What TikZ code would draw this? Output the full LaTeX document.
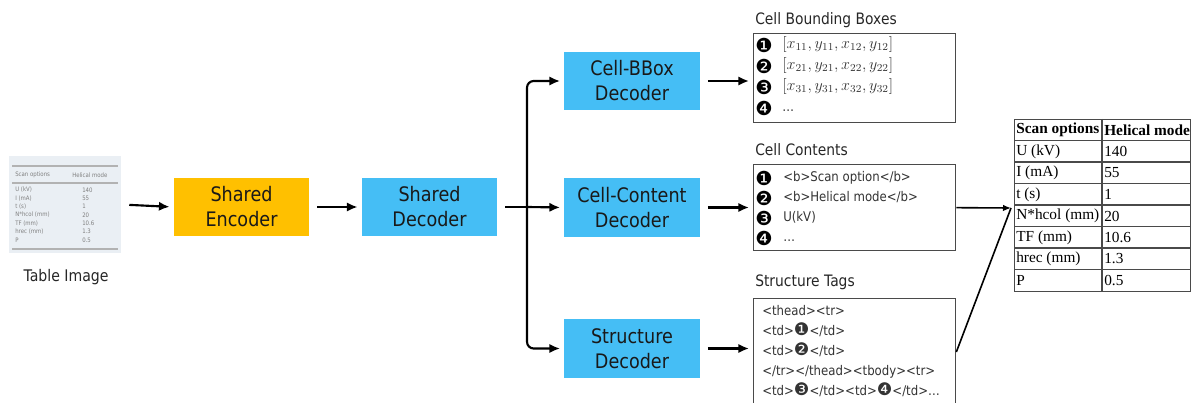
\documentclass[tikz,border=0pt]{standalone}
\usepackage[no-math]{fontspec}
\setmainfont{DejaVu Sans}[FakeStretch=0.88]
\newfontfamily\tabfont{Liberation Serif}
\newfontfamily\dingfont{DejaVu Sans}
\usetikzlibrary{positioning,arrows.meta,calc}

\definecolor{encyellow}{HTML}{FFC000}
\definecolor{decblue}{HTML}{45BEF5}
\definecolor{thumbbg}{HTML}{EAEFF4}
\definecolor{boxgray}{HTML}{4A4A4A}

% black circled numbers inside text lines
\newcommand\dingnum[1]{{\dingfont\fontsize{13}{12}\selectfont#1}}

\tikzset{
  encbox/.style={fill=encyellow, minimum width=101.5pt, minimum height=44pt, align=center,
    inner sep=0pt, font=\fontsize{15}{18.75}\selectfont, text=black!90},
  decbox/.style={encbox, fill=decblue},
  flow/.style={line width=1.6pt, -{Latex[length=8pt,width=7pt]}, shorten <=6pt, shorten >=3pt},
  branch/.style={line width=1.6pt, -{Latex[length=8pt,width=7pt]}, shorten >=3pt, rounded corners=5pt},
  outflow/.style={line width=1.2pt, -{Latex[length=6pt,width=5pt]}},
  listbox/.style={draw=boxgray, line width=1pt, minimum width=151.5pt, anchor=north west, inner sep=0pt},
  boxtitle/.style={anchor=west, inner sep=0pt, font=\fontsize{11.8}{14}\selectfont, text=black!85},
  item/.style={anchor=west, inner sep=0pt, text height=7.5pt, text depth=2.5pt,
    font=\fontsize{10}{12}\selectfont, text=black!80},
  mathitem/.style={item, font=\fontsize{12}{14}\selectfont},
  bullet/.style={inner sep=0pt, font=\dingfont\fontsize{14.5}{14.5}\selectfont},
  cell/.style={anchor=west, inner sep=0pt, font=\tabfont\fontsize{11.5}{13}\selectfont},
  tinytext/.style={anchor=west, inner sep=0pt, font=\fontsize{4.6}{5}\selectfont, text=black!50},
}

\begin{document}
\begin{tikzpicture}[x=0.75pt,y=-0.75pt]
\useasboundingbox (0,0) rectangle (1193,403);

% scanned input table
\node[fill=thumbbg, minimum width=84pt, minimum height=73pt, inner sep=0pt] (thumb) at (65,204.5) {};
\draw[black!30, line width=1.3pt] (12,166) -- (118,166);
\draw[black!30, line width=1pt] (12,183) -- (118,183);
\draw[black!30, line width=1.3pt] (12,249) -- (118,249);
\node[tinytext] (thh1) at (15,175) {Scan options};
\node[tinytext] (thh2) at (72,175) {Helical mode};
\foreach \a/\b [count=\i] in {U (kV)/140, I (mA)/55, t (s)/1, N*hcol (mm)/20, TF (mm)/10.6, hrec (mm)/1.3, P/0.5}
{
  \node[tinytext] (tha\i) at (15,{181.7+8.3*\i}) {\a};
  \node[tinytext] (thb\i) at (82,{181.7+8.3*\i}) {\b};
}
\node[font=\fontsize{12}{14}\selectfont, text=black!85] (timg) at (66,277) {Table Image};

% encoder / decoders
\node[encbox] (enc) at (241.5,207) {Shared\\Encoder};
\node[decbox] (dec) at (429.5,207) {Shared\\Decoder};
\node[decbox] (bbdec) at (632,81) {Cell-BBox\\Decoder};
\node[decbox] (ccdec) at (632,207.5) {Cell-Content\\Decoder};
\node[decbox] (stdec) at (632,348.5) {Structure\\Decoder};

\draw[flow] (thumb.east) -- (enc.west);
\draw[flow] (enc) -- (dec);
\coordinate (split) at (527,207);
\draw[line width=1.6pt, shorten <=6pt] (dec.east) -- (split);
\draw[branch] (split) -- (ccdec.west);
\draw[branch] (split) |- (bbdec.west);
\draw[branch] (split) |- (stdec.west);

% decoder outputs
\node[boxtitle] (bbtitle) at (755,20) {Cell Bounding Boxes};
\node[boxtitle] (cctitle) at (755,150) {Cell Contents};
\node[boxtitle] (sttitle) at (755,282) {Structure Tags};
\node[listbox, minimum height=66.75pt] (bblist) at (753,33) {};
\node[listbox, minimum height=64.5pt] (cclist) at (753,164) {};
\node[listbox, minimum height=84pt] (stlist) at (753,298) {};

\draw[flow] (bbdec.east) -- (bbdec.east -| bblist.west);
\draw[flow] (ccdec.east) -- (ccdec.east -| cclist.west);
\draw[flow] (stdec.east) -- (stdec.east -| stlist.west);

\foreach \b [count=\i] in {❶,❷,❸,❹}
{
  \node[bullet] (bbn\i) at (764,{45+21*(\i-1)}) {\b};
  \node[bullet] (ccn\i) at (764,{178+20*(\i-1)}) {\b};
}
\foreach \t [count=\i] in {{$[x_{11}, y_{11}, x_{12}, y_{12}]$}, {$[x_{21}, y_{21}, x_{22}, y_{22}]$},
    {$[x_{31}, y_{31}, x_{32}, y_{32}]$}, {\fontsize{10}{12}\selectfont\dots}}
  \node[mathitem] (bb\i) at (782,{45+21*(\i-1)}) {\t};
\foreach \t [count=\i] in {{<b>Scan option</b>}, {<b>Helical mode</b>}, {U(kV)}, {\dots}}
  \node[item] (cc\i) at (783,{178+20*(\i-1)}) {\t};
\foreach \t [count=\i] in {{<thead><tr>}, {<td>\dingnum{❶}</td>}, {<td>\dingnum{❷}</td>},
    {</tr></thead><tbody><tr>}, {<td>\dingnum{❸}</td><td>\dingnum{❹}</td>\dots}}
  \node[item] (st\i) at (762,{312+20*(\i-1)}) {\t};

% rebuilt table
\node[draw=boxgray, line width=1pt, minimum width=132pt, minimum height=129pt,
  anchor=north west, inner sep=0pt] (outtab) at (1014,119) {};
\foreach \i in {1,...,7}
  \draw[boxgray, line width=0.9pt] (1014,{119+21.5*\i}) -- (1190,{119+21.5*\i});
\draw[boxgray, line width=0.9pt] (1102,119) -- (1102,291);
\node[cell, font=\tabfont\bfseries\fontsize{11.5}{13}\selectfont] (oh1) at (1016,130) {Scan options};
\node[cell, font=\tabfont\bfseries\fontsize{11.5}{13}\selectfont] (oh2) at (1104,130) {Helical mode};
\foreach \a/\b [count=\i] in {U (kV)/140, I (mA)/55, t (s)/1, N*hcol (mm)/20, TF (mm)/10.6, hrec (mm)/1.3, P/0.5}
{
  \node[cell] (oa\i) at (1016,{130+21.5*\i}) {\a};
  \node[cell] (ob\i) at (1104,{130+21.5*\i}) {\b};
}

\coordinate (tabin) at (1011,208);
\draw[outflow] (cclist.east) -- (tabin);
\draw[line width=1.2pt] ($(stlist.north east)+(0,54)$) -- (tabin);
\end{tikzpicture}
\end{document}
